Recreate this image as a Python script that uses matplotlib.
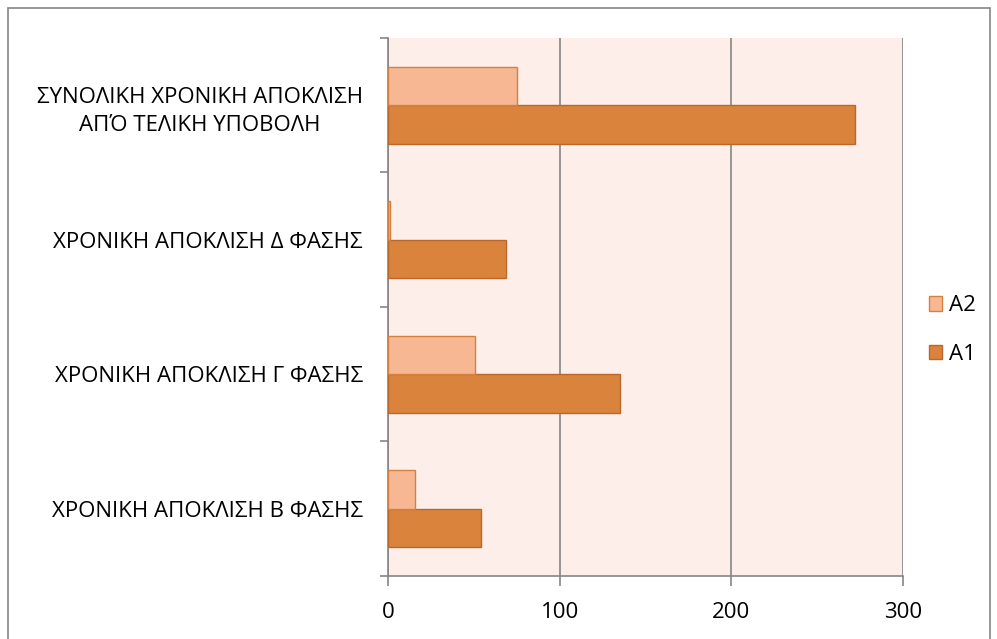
import numpy as np
import matplotlib.pyplot as plt
from matplotlib.patches import Rectangle

plt.rcParams['font.family'] = ['Open Sans', 'DejaVu Sans']

# categories listed bottom to top
categories = ['ΧΡΟΝΙΚΗ ΑΠΟΚΛΙΣΗ Β ΦΑΣΗΣ',
              'ΧΡΟΝΙΚΗ ΑΠΟΚΛΙΣΗ Γ ΦΑΣΗΣ',
              'ΧΡΟΝΙΚΗ ΑΠΟΚΛΙΣΗ Δ ΦΑΣΗΣ',
              'ΣΥΝΟΛΙΚΗ ΧΡΟΝΙΚΗ ΑΠΟΚΛΙΣΗ\nΑΠΌ ΤΕΛΙΚΗ ΥΠΟΒΟΛΗ']
a1 = [54, 135, 69, 272]
a2 = [16, 51, 1.5, 75]
xticks = [0, 100, 200, 300]

fig = plt.figure(figsize=(9.97, 6.39), dpi=100)
ax = fig.add_axes([0.389, 0.0986, 0.517, 0.842])
ax.set_facecolor('#fdeee9')

y = np.arange(len(categories))
h = 0.286
ax.barh(y - h / 2, a1, height=h, color='#d9833c', edgecolor='#b9672b', linewidth=1, label='A1', zorder=3)
ax.barh(y + h / 2, a2, height=h, color='#f8b793', edgecolor='#d4813f', linewidth=1, label='A2', zorder=3)

ax.set_xlim(0, 300)
ax.set_ylim(-0.5, len(categories) - 0.5)
ax.set_xticks(xticks)
ax.set_xticklabels([str(t) for t in xticks], fontsize=16)
ax.tick_params(axis='x', direction='out', length=7, width=1.2, color='#868686', pad=12)
ax.xaxis.grid(True, color='#868686', linewidth=1.2, zorder=1)

ax.set_yticks(np.arange(len(categories) + 1) - 0.5)
ax.set_yticklabels([])
ax.set_yticks(y, minor=True)
ax.set_yticklabels(categories, minor=True, fontsize=16, multialignment='center', linespacing=1.45)
ax.tick_params(axis='y', which='major', direction='out', length=6, width=1.2, color='#868686')
ax.tick_params(axis='y', which='minor', length=0, pad=18)

for s in ['top', 'right']:
    ax.spines[s].set_visible(False)
for s in ['left', 'bottom']:
    ax.spines[s].set_color('#868686')
    ax.spines[s].set_linewidth(1.2)

handles, labels = ax.get_legend_handles_labels()
ax.legend(handles[::-1], labels[::-1], loc='center left', bbox_to_anchor=(1.049, 0.457),
          frameon=False, fontsize=16, borderpad=0, borderaxespad=0,
          handlelength=0.62, handleheight=0.62,
          handletextpad=0.32, labelspacing=1.25)

fig.patches.append(Rectangle((0.008, -0.05), 0.985, 1.037, transform=fig.transFigure,
                             fill=False, edgecolor='#868686', linewidth=1.2))

fig.savefig('out.png', dpi=100)
